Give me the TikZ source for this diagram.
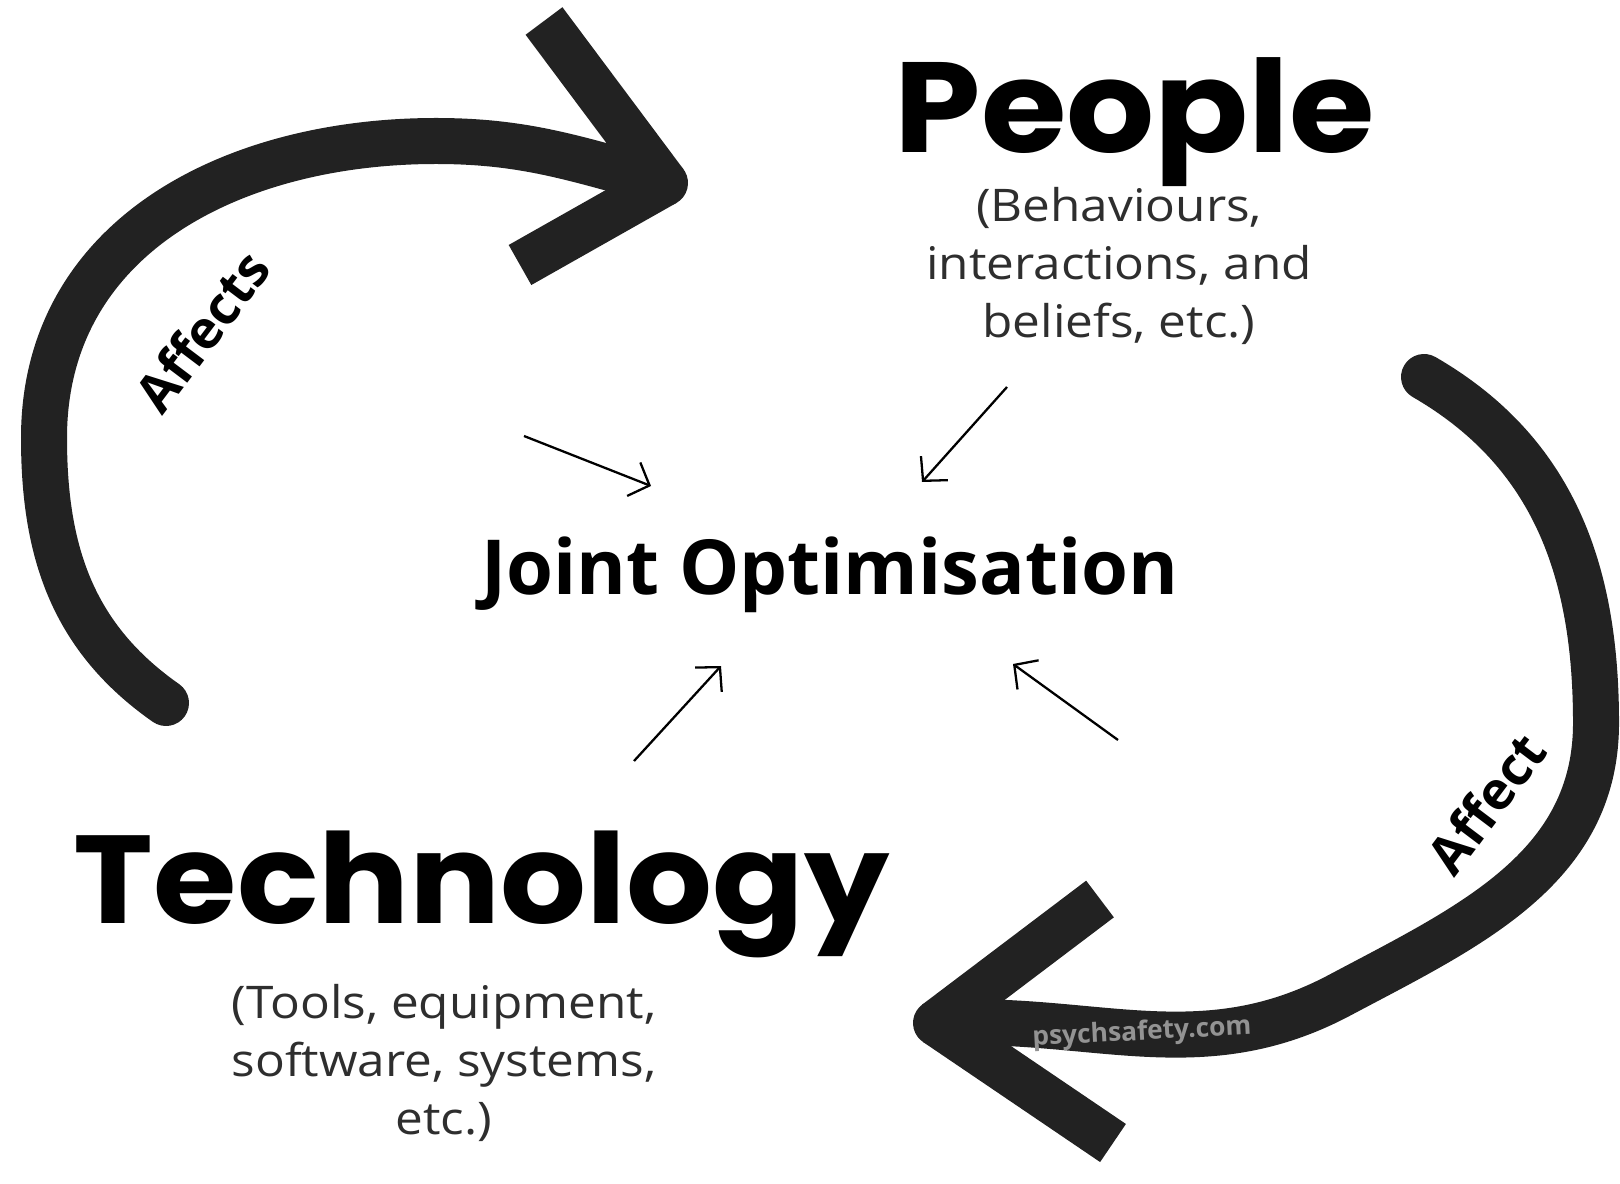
\documentclass[tikz,border=0pt]{standalone}
\usepackage{fontspec}
\setmainfont{Open Sans}
\newfontfamily\titlefont[FakeStretch=1.08]{Poppins}
\newfontfamily\descfont[FakeStretch=1.1]{Open Sans}
\usetikzlibrary{arrows.meta}
\definecolor{ink}{HTML}{222222}
\definecolor{subgray}{HTML}{2E2E2E}

\begin{document}
\begin{tikzpicture}[
  band/.style={line width=0.46cm, color=ink, line cap=round},
  chevron/.style={line width=0.46cm, color=ink, line cap=butt, line join=bevel},
  thin/.style={line width=0.65pt, -{Straight Barb[length=1.7mm,width=3.6mm]}},
  title/.style={font=\titlefont\bfseries\fontsize{36.5}{40}\selectfont, inner sep=0pt},
  subtext/.style={font=\descfont\fontsize{12.8}{16.4}\selectfont, align=center, text=subgray, inner sep=0pt},
  arclabel/.style={font=\fontsize{15}{18}\selectfont\bfseries, inner sep=0pt}]
\useasboundingbox (0,0) rectangle (16.2,11.83);

% Titles
\node[title, anchor=base] (people) at (11.35,10.3) {People};
\node[subtext] (pdesc) at (11.19,9.17) {(Behaviours,\\interactions, and\\beliefs, etc.)};
\node[title, font=\titlefont\bfseries\fontsize{35.6}{40}\selectfont, anchor=base] (tech) at (4.82,2.6) {Technology};
\node[subtext] (tdesc) at (4.44,1.2) {(Tools, equipment,\\software, systems,\\etc.)};
\node[font=\fontsize{21.6}{24}\selectfont\bfseries, anchor=base, inner sep=0pt] (joint) at (8.3,5.89) {Joint Optimisation};

% Top left loop
\coordinate (ltail) at (1.66,4.8);
\coordinate (lhead) at (6.65,10.0);
\draw[band] (ltail) to[out=145,in=-90] (0.44,7.45) to[out=90,in=180, looseness=1.05] (4.36,10.42) to[out=0,in=165] (lhead);
\draw[chevron] (5.44,11.62) -- (lhead) -- (5.2,9.18);
\node[arclabel, rotate=53] (affects) at (2.02,8.52) {Affects};

% Bottom right loop
\coordinate (rtail) at (14.24,8.06);
\coordinate (rhead) at (9.36,1.6);
\draw[band] (rtail) to[out=-30,in=90] (15.96,4.6) to[out=-90,in=28] (13.4,1.88) to[out=208,in=3] (rhead);
\draw[chevron] (11.0,2.84) -- (rhead) -- (11.13,0.4);
\node[arclabel, rotate=53] (affect) at (14.86,3.8) {Affect};
\node[font=\fontsize{7.5}{9}\selectfont\bfseries, text=gray!85, rotate=3, inner sep=0pt] (mark) at (11.42,1.5) {psychsafety.com};

% Thin arrows into the middle
\coordinate (a1) at (5.24,7.47);
\coordinate (b1) at (6.51,6.97);
\coordinate (a2) at (10.07,7.96);
\coordinate (b2) at (9.22,7.01);
\coordinate (a3) at (6.34,4.22);
\coordinate (b3) at (7.21,5.17);
\coordinate (a4) at (11.18,4.43);
\coordinate (b4) at (10.13,5.19);
\draw[thin] (a1) -- (b1);
\draw[thin] (a2) -- (b2);
\draw[thin] (a3) -- (b3);
\draw[thin] (a4) -- (b4);
\end{tikzpicture}
\end{document}
